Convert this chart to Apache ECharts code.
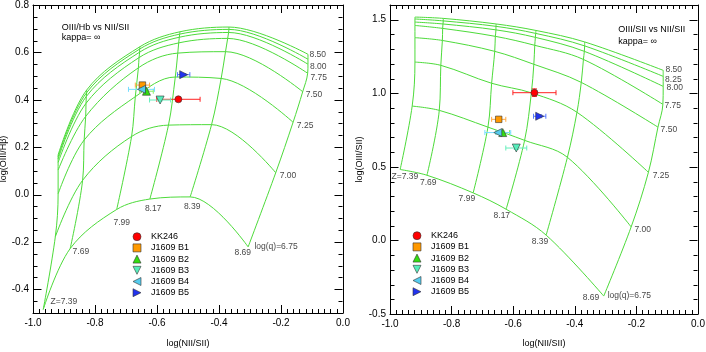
<!DOCTYPE html>
<html><head><meta charset="utf-8">
<script src="https://cdn.jsdelivr.net/npm/echarts@6/dist/echarts.min.js"></script>
<style>html,body{margin:0;padding:0;background:#fff}#c{width:706px;height:352px}</style>
</head><body><div id="c"></div>
<script>
// ---- model grid (rows = log(q), columns = metallicity Z) ----
const qValues = [6.75, 7.00, 7.25, 7.50, 7.75, 8.00, 8.25, 8.50];
const zValues = [7.39, 7.69, 7.99, 8.17, 8.39, 8.69];
const gridNIISII = [
  [-0.967, -0.880, -0.730, -0.623, -0.493, -0.306],
  [-0.928, -0.840, -0.682, -0.563, -0.424, -0.217],
  [-0.919, -0.835, -0.670, -0.541, -0.393, -0.161],
  [-0.919, -0.830, -0.660, -0.533, -0.379, -0.130],
  [-0.919, -0.829, -0.658, -0.530, -0.372, -0.114],
  [-0.919, -0.828, -0.656, -0.528, -0.369, -0.113],
  [-0.919, -0.827, -0.656, -0.527, -0.368, -0.113],
  [-0.919, -0.827, -0.655, -0.526, -0.368, -0.113]
];
const gridOIIIHb = [
  [-0.485, -0.228, -0.063, -0.019, -0.010, -0.221],
  [-0.178,  0.060,  0.245,  0.293,  0.295,  0.092],
  [ 0.003,  0.230,  0.413,  0.496,  0.490,  0.305],
  [ 0.103,  0.330,  0.535,  0.597,  0.603,  0.434],
  [ 0.135,  0.385,  0.578,  0.640,  0.659,  0.512],
  [ 0.150,  0.414,  0.601,  0.664,  0.684,  0.550],
  [ 0.160,  0.430,  0.614,  0.677,  0.697,  0.571],
  [ 0.167,  0.441,  0.624,  0.687,  0.707,  0.592]
];
const gridOIIISII = [
  [0.482, 0.443, 0.323, 0.212, 0.036, -0.378],
  [0.913, 0.884, 0.770, 0.680, 0.565,  0.092],
  [1.212, 1.190, 1.068, 1.003, 0.871,  0.463],
  [1.378, 1.359, 1.285, 1.197, 1.074,  0.770],
  [1.461, 1.441, 1.387, 1.326, 1.230,  0.925],
  [1.484, 1.471, 1.431, 1.380, 1.285,  1.047],
  [1.505, 1.492, 1.455, 1.407, 1.322,  1.115],
  [1.518, 1.509, 1.471, 1.427, 1.349,  1.156]
];
// ---- observed objects ----
const objNames = ['KK246', 'J1609 B1', 'J1609 B2', 'J1609 B3', 'J1609 B4', 'J1609 B5'];
const objNIISII = [-0.531, -0.647, -0.634, -0.590, -0.650, -0.514];
const objNIISIIErr = [0.070, 0.023, 0.022, 0.034, 0.042, 0.020];
const objOIIIHb = [0.402, 0.462, 0.436, 0.399, 0.444, 0.506];
const objOIIIHbErr = [0.008, 0.004, 0.004, 0.004, 0.004, 0.004];
const objOIIISII = [1.004, 0.823, 0.733, 0.628, 0.733, 0.844];
const objOIIISIIErr = [0.026, 0.010, 0.010, 0.010, 0.010, 0.010];
// ---- axis ranges / tick labels ----
const xRange = [-1.0, 0.0];
const xTickLabels = [-1.0, -0.8, -0.6, -0.4, -0.2, 0.0];
const yRangeHb = [-0.5, 0.8];
const yTicksHb = [-0.4, -0.2, 0.0, 0.2, 0.4, 0.6, 0.8];
const yRangeSII = [-0.5, 1.6];
const yTicksSII = [-0.5, 0.0, 0.5, 1.0, 1.5];

// ---- styles ----
const FONT = 'Liberation Sans';
const GREEN = '#4ddb3a';
const markerSymbol = ['circle', 'rect', 'triangle', 'triangle', 'triangle', 'triangle'];
const markerRotate = [0, 0, 0, 180, 90, -90];
const legendIcon = ['circle', 'rect', 'path://M5,0L10,10L0,10Z', 'path://M0,0L10,0L5,10Z', 'path://M10,0L10,10L0,5Z', 'path://M0,0L0,10L10,5Z'];
const markerSize = [7, 6.5, 8, 8, 8, 8];
const markerColor = ['#ff0000', '#ff9900', '#33dd11', '#55eebb', '#55ccee', '#2233ee'];
const errColor = ['#ff2222', '#ffaa44', '#88ee66', '#66eebb', '#77ddff', '#5577ff'];

const chart = echarts.init(document.getElementById('c'), null, {renderer: 'canvas'});

const black = {color: '#000'};
const labelFont = {fontSize: 10, fontFamily: FONT, color: '#000'};
const nameFont = {fontSize: 9, fontFamily: FONT, color: '#000'};
const isIn = (v, list) => list.some(t => Math.abs(t - v) < 1e-6);

function xAxes(gi, gap) {
  const mk = (pos) => ({
    gridIndex: gi, type: 'value', min: xRange[0], max: xRange[1], interval: 0.2, position: pos,
    axisLine: {show: true, onZero: false, lineStyle: {color: '#000', width: 1}},
    axisTick: {show: true, inside: true, length: 8, lineStyle: black},
    minorTick: {show: true, splitNumber: 10, length: 4, lineStyle: black},
    splitLine: {show: false}, minorSplitLine: {show: false}
  });
  const bottom = mk('bottom');
  bottom.name = 'log(NII/SII)';
  bottom.nameLocation = 'middle';
  bottom.nameGap = gap;
  bottom.nameTextStyle = nameFont;
  bottom.axisLabel = Object.assign({show: true, margin: 5,
    formatter: v => isIn(v, xTickLabels) ? v.toFixed(1) : ''}, labelFont);
  const top = mk('top');
  top.axisLabel = {show: false};
  return [bottom, top];
}
// y axes: frame lines + labels; the tick marks are drawn by a custom series below
function yAxes(gi, range, step, labels, name, gap) {
  const mk = (pos) => ({gridIndex: gi, type: 'value', min: range[0], max: range[1], interval: step, position: pos,
    splitLine: {show: false}, axisLabel: {show: false}, axisTick: {show: false},
    axisLine: {show: true, onZero: false, lineStyle: {color: '#000', width: 1}}});
  const left = mk('left');
  left.axisLabel = Object.assign({show: true, margin: 4,
    formatter: v => isIn(v, labels) ? v.toFixed(1) : ''}, labelFont);
  left.name = name;
  left.nameLocation = 'middle';
  left.nameGap = gap;
  left.nameTextStyle = nameFont;
  return [left, mk('right')];
}

// inward tick marks on both vertical frame sides
function yTickSeries(xi, yi, range, step, majors) {
  const vals = [];
  const n = Math.round((range[1] - range[0]) / step);
  for (let i = 1; i < n; i++) {
    const v = +(range[0] + i * step).toFixed(4);
    vals.push([xRange[0], v, isIn(v, majors) ? 8 : 4]);
  }
  return {type: 'custom', xAxisIndex: xi, yAxisIndex: yi, silent: true, z: 6, clip: false,
    encode: {x: 0, y: 1}, data: vals,
    renderItem: function (params, api) {
      const cs = params.coordSys;
      const p = api.coord([api.value(0), api.value(1)]);
      const y = Math.round(p[1]) + 0.5;
      const len = api.value(2);
      const xl = Math.round(cs.x) + 0.5, xr = Math.round(cs.x + cs.width) - 0.5;
      const st = {stroke: '#000', lineWidth: 1};
      return {type: 'group', children: [
        {type: 'line', shape: {x1: xl, y1: y, x2: xl + len, y2: y}, style: st},
        {type: 'line', shape: {x1: xr - len, y1: y, x2: xr, y2: y}, style: st}
      ]};
    }};
}

function gridSeries(xi, yi, yGrid) {
  const out = [];
  const mk = (data) => ({type: 'line', xAxisIndex: xi, yAxisIndex: yi, silent: true, z: 2,
    color: GREEN, smooth: 0.35, showSymbol: false, symbol: 'none',
    itemStyle: {color: GREEN}, lineStyle: {color: GREEN, width: 1, opacity: 1},
    emphasis: {disabled: true}, data: data});
  qValues.forEach((q, i) => out.push(mk(zValues.map((z, j) => [gridNIISII[i][j], yGrid[i][j]]))));
  zValues.forEach((z, j) => out.push(mk(qValues.map((q, i) => [gridNIISII[i][j], yGrid[i][j]]))));
  return out;
}

function labelSeries(xi, yi, yGrid, qOff, zOff) {
  const data = [];
  const last = zValues.length - 1;
  qValues.forEach((q, i) => {
    if (!qOff[i]) return;
    const text = i === 0 ? 'log(q)=' + q.toFixed(2) : q.toFixed(2);
    data.push({value: [gridNIISII[i][last], yGrid[i][last]], label: {formatter: text, position: qOff[i]}});
  });
  zValues.forEach((z, j) => {
    const text = j === 0 ? 'Z=' + z.toFixed(2) : z.toFixed(2);
    data.push({value: [gridNIISII[0][j], yGrid[0][j]], label: {formatter: text, position: zOff[j]}});
  });
  return {type: 'scatter', xAxisIndex: xi, yAxisIndex: yi, silent: true, z: 5,
    symbolSize: 0.01, itemStyle: {color: 'rgba(0,0,0,0)'}, data: data,
    label: {show: true, align: 'center', verticalAlign: 'middle', fontSize: 8.5, fontFamily: FONT, color: '#111'}};
}

function errSeries(xi, yi, ys, yerrs) {
  return {type: 'custom', xAxisIndex: xi, yAxisIndex: yi, silent: true, z: 3,
    encode: {x: 0, y: 1},
    data: objNames.map((n, k) => [objNIISII[k], ys[k], objNIISIIErr[k], yerrs[k], k]),
    renderItem: function (params, api) {
      const x = api.value(0), y = api.value(1), ex = api.value(2), ey = api.value(3), k = api.value(4);
      const pL = api.coord([x - ex, y]), pR = api.coord([x + ex, y]);
      const pB = api.coord([x, y - ey]), pT = api.coord([x, y + ey]);
      const c = 2.5;
      const st = {stroke: errColor[k], lineWidth: 1, fill: null};
      const mk = (x1, y1, x2, y2) => ({type: 'line', shape: {x1: x1, y1: y1, x2: x2, y2: y2}, style: st});
      return {type: 'group', children: [
        mk(pL[0], pL[1], pR[0], pR[1]), mk(pL[0], pL[1] - c, pL[0], pL[1] + c), mk(pR[0], pR[1] - c, pR[0], pR[1] + c),
        mk(pB[0], pB[1], pT[0], pT[1]), mk(pB[0] - c, pB[1], pB[0] + c, pB[1]), mk(pT[0] - c, pT[1], pT[0] + c, pT[1])
      ]};
    }};
}

function objSeries(xi, yi, ys) {
  return objNames.map((n, k) => ({
    type: 'scatter', name: n, xAxisIndex: xi, yAxisIndex: yi, z: 4,
    symbol: markerSymbol[k], symbolRotate: markerRotate[k], symbolSize: markerSize[k],
    itemStyle: {color: markerColor[k], borderColor: '#333', borderWidth: 0.6, opacity: 1},
    data: [[objNIISII[k], ys[k]]]
  }));
}

const leftQOff = [[27.9, 0], [12.3, 3.3], [12, 3.7], [11.3, 3.3], [11, 4], [10.3, 2.4], null, [9.8, 0]];
const leftZOff = [[20.7, -7.6], [10.7, 3.4], [5, 13.4], [3.3, 9.3], [2, 9.3], [-5.4, 6]];
const rightQOff = [[25.5, 0], [11.5, 2.6], [12.5, 3], [10.9, 2.3], [9.9, 1], [11.6, 1.3], [10.2, 3.3], [10.5, -0.7]];
const rightZOff = [[4.7, 6.7], [1.3, 7.7], [-6.3, 5.6], [-4.3, 6.7], [-6.2, 7], [-12.7, 1.7]];

function legendCfg(left, top) {
  return {
    data: objNames.map((n, k) => ({name: n, icon: legendIcon[k],
      itemStyle: {color: markerColor[k], borderColor: '#333', borderWidth: 0.6}})),
    orient: 'vertical', left: left, top: top, padding: 0, itemWidth: 8, itemHeight: 8, itemGap: 0,
    symbolRotate: 0, selectedMode: false,
    textStyle: {fontSize: 9, fontFamily: FONT, color: '#000', lineHeight: 11.2, padding: [0, 0, 0, 5]}
  };
}

const gridBase = {containLabel: false, outerBoundsMode: 'none'};

const option = {
  animation: false,
  backgroundColor: '#fff',
  grid: [
    Object.assign({left: 33, top: 5, width: 310, height: 308}, gridBase),
    Object.assign({left: 390, top: 5, width: 308, height: 309}, gridBase)
  ],
  xAxis: [].concat(xAxes(0, 26.5), xAxes(1, 25.5)),
  yAxis: [].concat(
    yAxes(0, yRangeHb, 0.05, yTicksHb, 'log(OIII/Hβ)', 23.5),
    yAxes(1, yRangeSII, 0.1, yTicksSII, 'log(OIII/SII)', 25.5)
  ),
  legend: [legendCfg(132.7, 231.1), legendCfg(412.7, 230.1)],
  graphic: [
    {type: 'text', x: 61.7, y: 27.3, style: {text: 'OIII/Hb vs NII/SII', fontSize: 9, fontFamily: FONT, fill: '#000', verticalAlign: 'middle'}},
    {type: 'text', x: 61.7, y: 38, style: {text: 'kappa= ∞', fontSize: 9, fontFamily: FONT, fill: '#000', verticalAlign: 'middle'}},
    {type: 'text', x: 618.3, y: 29.3, style: {text: 'OIII/SII vs NII/SII', fontSize: 9, fontFamily: FONT, fill: '#000', verticalAlign: 'middle'}},
    {type: 'text', x: 618.3, y: 42, style: {text: 'kappa= ∞', fontSize: 9, fontFamily: FONT, fill: '#000', verticalAlign: 'middle'}}
  ],
  series: [].concat(
    gridSeries(0, 0, gridOIIIHb),
    gridSeries(2, 2, gridOIIISII),
    [labelSeries(0, 0, gridOIIIHb, leftQOff, leftZOff), labelSeries(2, 2, gridOIIISII, rightQOff, rightZOff)],
    [errSeries(0, 0, objOIIIHb, objOIIIHbErr), errSeries(2, 2, objOIIISII, objOIIISIIErr)],
    objSeries(0, 0, objOIIIHb),
    objSeries(2, 2, objOIIISII),
    [yTickSeries(0, 0, yRangeHb, 0.05, yTicksHb), yTickSeries(2, 2, yRangeSII, 0.1, yTicksSII)]
  )
};
chart.setOption(option);
</script>
</body></html>
